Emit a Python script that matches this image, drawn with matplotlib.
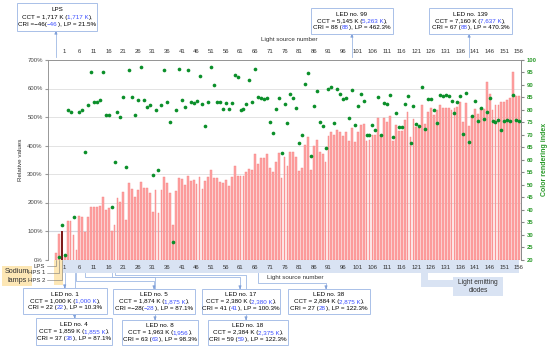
import matplotlib.pyplot as plt
from matplotlib.patches import Rectangle, FancyArrowPatch
from matplotlib.lines import Line2D

plt.rcParams['font.family'] = ['Liberation Sans', 'DejaVu Sans']

# sodium lamps (placed before LED no. 1)
sodium_names = ['LPS', 'HPS 1', 'HPS 2']
sodium_pos = [-2, -1, 0]
sodium_lp = [21.5, 89, 100]
sodium_cri = [-46, 21, 34]

# LEDs no. 1..156 : relative values (LP, %) and colour rendering index
led_lp = [10, 135, 135, 87, 35, 152, 150, 98, 148, 185,
          183, 183, 189, 218, 174, 180, 100, 122, 217, 203,
          238, 139, 267, 246, 221, 244, 271, 252, 250, 235,
          168, 244, 164, 244, 288, 267, 232, 122, 240, 285,
          283, 263, 294, 275, 279, 265, 288, 246, 275, 291,
          314, 285, 286, 273, 270, 279, 258, 288, 329, 293,
          293, 293, 306, 318, 314, 370, 335, 355, 356, 369,
          320, 306, 341, 374, 287, 358, 329, 376, 376, 360,
          310, 322, 401, 431, 315, 399, 418, 378, 371, 341,
          434, 446, 437, 453, 446, 433, 448, 416, 462, 411,
          446, 472, 474, 416, 419, 437, 437, 497, 437, 497,
          481, 505, 416, 472, 451, 451, 489, 519, 431, 493,
          466, 460, 542, 477, 519, 533, 507, 525, 542, 530,
          533, 530, 525, 530, 536, 554, 484, 550, 470, 502,
          527, 512, 530, 528, 624, 580, 523, 542, 542, 551,
          554, 558, 568, 659, 575, 573]
led_cri = [22, 80, 79, 37, -28, 79, 80, 63, 82, 95,
           83, 83, 84, 95, 78, 78, 41, 59, 79, 77,
           85, 57, 96, 85, 78, 84, 97, 84, 81, 82,
           54, 80, 56, 82, 96, 83, 75, 27, 80, 96.5,
           84, 81, 96, 83, 82.6, 83.4, 93.4, 82.5, 73.4, 83.3,
           97.3, 90, 83, 83.3, 80.4, 82.6, 80.2, 82.6, 94, 93,
           79.8, 80.5, 82.4, 92, 83, 96.4, 85.3, 84.9, 84.4, 84.6,
           75, 70.6, 80.2, 84.8, 62.8, 82.2, 74.8, 86.4, 84.6, 80.9,
           66.9, 69.9, 90.4, 94.8, 61.6, 81.6, 87.7, 75.3, 73.4, 64.7,
           88.4, 89, 74.6, 88.5, 86.3, 84.4, 84.8, 76.6, 88, 73.8,
           81.6, 86.3, 83.7, 69.9, 69.9, 73.8, 72, 85.2, 69.9, 82.6,
           82.3, 86, 69, 78.9, 73, 73, 82.2, 85.7, 66.6, 81.7,
           74.3, 73.5, 89.3, 72.3, 84.4, 84.5, 80.1, 74.9, 85.8, 85.4,
           85.8, 85.6, 83.5, 78.6, 83, 85.4, 70.5, 86.6, 67, 77.7,
           83.7, 75.5, 80.9, 76.3, 79.3, 84.8, 75.4, 75, 75.8, 72.1,
           75.4, 76.1, 75.6, 86, 76.1, 75.7]
led_pos = list(range(1, len(led_lp) + 1))
tick_pos = list(range(1, 157, 5))

# callouts: title, CCT, CCT (calc), CRI, CRI (calc), LP
notes = {
    'LPS': ('LPS', '1,717 K', '1,717 K', '\u221246', '\u221246', '21.5%'),
    1: ('LED no. 1', '1,000 K', '1,000 K', '22', '22', '10.3%'),
    4: ('LED no. 4', '1,859 K', '1,855 K', '37', '38', '87.1%'),
    5: ('LED no. 5', '1,874 K', '1,875 K', '\u221228', '\u221228', '87.1%'),
    8: ('LED no. 8', '1,963 K', '1,956', '63', '63', '98.3%'),
    17: ('LED no. 17', '2,380 K', '2,380 K', '41', '41', '100.3%'),
    18: ('LED no. 18', '2,384 K', '2,375 K', '59', '59', '122.3%'),
    38: ('LED no. 38', '2,884 K', '2,875 K', '27', '28', '122.3%'),
    99: ('LED no. 99', '5,145 K', '5,263 K', '88', '88', '462.3%'),
    139: ('LED no. 139', '7,160 K', '7,637 K', '67', '88', '470.3%'),
}

W, H = 550, 348
fig = plt.figure(figsize=(W / 100, H / 100), dpi=100)
ax = fig.add_axes([48.3 / W, 1 - 259.5 / H, (520.7 - 48.3) / W, (259.5 - 60) / H])

ax.bar(led_pos, led_lp, width=0.62, color='#ffa3a3', edgecolor='#f47f7f', lw=0.3, zorder=2)
ax.bar(sodium_pos[:2], sodium_lp[:2], width=0.62, color='#ffa3a3', edgecolor='#f47f7f', lw=0.3, zorder=2)
ax.bar(sodium_pos[2:], sodium_lp[2:], width=0.62, color='#7d1c1c', zorder=2)
ax.set_xlim(-4.6, 156.6)
ax.set_ylim(0, 700)
ax.set_yticks(range(0, 701, 100))
ax.set_yticklabels([f'{v}%' for v in range(0, 701, 100)])
ax.grid(axis='y', color='#dedede', lw=0.6, zorder=0)
ax.plot([-4.6, 38.5], [100, 100], color='#9fb9e4', lw=0.8, zorder=1)
ax.set_xticks(tick_pos)
ax.tick_params(axis='x', length=0, labelsize=4.3, labelcolor='#333333', pad=4,
               top=True, labeltop=True)
ax.tick_params(axis='y', length=2, labelsize=4.3, labelcolor='#444444', color='#999999', pad=2)
for s in ['top', 'left']:
    ax.spines[s].set_linestyle((0, (1, 1)))
    ax.spines[s].set_color('#888888')
    ax.spines[s].set_linewidth(0.6)
ax.spines['bottom'].set_visible(False)
ax.spines['right'].set_color('#888888')
ax.spines['right'].set_linewidth(0.6)
ax.set_ylabel('Relative values', fontsize=4.5, color='#333333', labelpad=3)

ax2 = ax.twinx()
ax2.scatter(led_pos, led_cri, s=7, color='#0b8f2a', lw=0, zorder=3)
ax2.scatter(sodium_pos, sodium_cri, s=7, color='#0b8f2a', lw=0, zorder=3)
ax2.set_ylim(20, 100)
ax2.set_yticks(range(20, 101, 5))
ax2.tick_params(axis='y', length=2.5, labelsize=4.2, labelcolor='#2a9a2a', color='#888888', pad=2)
for t in ax2.get_yticklabels():
    t.set_fontweight('bold')
for s in ['top', 'left', 'bottom']:
    ax2.spines[s].set_visible(False)
ax2.spines['right'].set_color('#888888')
ax2.spines['right'].set_linewidth(0.6)
ax2.set_ylabel('Color rendering index', fontsize=5, color='#2a9a2a', fontweight='bold', labelpad=3)

fig.text(289 / W, 1 - 40 / H, 'Light source number', fontsize=4.5, color='#333333', ha='center', va='center')

renderer = fig.canvas.get_renderer()
line_c = '#9fb9e4'
blue = '#3a4dff'


def fp(x, y):
    return (x / W, 1 - y / H)


def rect(x0, y0, x1, y1, fc, ec='none', lw=0.7, z=3):
    fig.add_artist(Rectangle(fp(x0, y1), (x1 - x0) / W, (y1 - y0) / H, transform=fig.transFigure,
                             fc=fc, ec=ec, lw=lw, zorder=z))


def connector(points, z=2):
    xs = [fp(*p)[0] for p in points]
    ys = [fp(*p)[1] for p in points]
    fig.add_artist(Line2D(xs, ys, transform=fig.transFigure, color=line_c, lw=0.6, zorder=z))
    (xa, ya), (xb, yb) = points[-2], points[-1]
    d = 4.0
    if xa == xb:
        start = (xb, yb - d if yb > ya else yb + d)
    else:
        start = (xb - d if xb > xa else xb + d, yb)
    fig.add_artist(FancyArrowPatch(fp(*start), fp(xb, yb), transform=fig.transFigure, arrowstyle='-|>',
                                   mutation_scale=4, color='#7f9fd8', lw=0.6, zorder=z))


def rich(xc, y, parts, size=4.5):
    texts, widths = [], []
    for s, c in parts:
        t = fig.text(0, 0, s, color=c, fontsize=size, ha='left', va='center', zorder=6)
        texts.append(t)
        widths.append(t.get_window_extent(renderer).width)
    x = xc - sum(widths) / 2
    for t, w in zip(texts, widths):
        t.set_position(fp(x, y))
        x += w


def note(key, x0, y0, x1, y1):
    title, cct, cct2, cri, cri2, lp = notes[key]
    rect(x0, y0, x1, y1, 'white', '#a9c0e8', 0.7, z=4)
    xc = (x0 + x1) / 2
    step = (y1 - y0) / 3.6
    fig.text(*fp(xc, y0 + step * 0.85), title, fontsize=4.5, ha='center', va='center', zorder=6)
    rich(xc, y0 + step * 1.8, [(f'CCT = {cct} (', 'black'), (cct2, blue), ('),', 'black')])
    sep = '(' if cri.startswith('\u2212') else ' ('
    eq = 'CRI =' if cri.startswith('\u2212') else 'CRI = '
    rich(xc, y0 + step * 2.75, [(f'{eq}{cri}{sep}', 'black'), (cri2, blue), (f'), LP = {lp}', 'black')])


def xpix(p):
    return ax.transData.transform((p, 0))[0]


# band under the x axis, sodium lamps and LED group (behind the axes' tick labels)
rect(63, 259.5, 519, 273, '#d9e3f3', z=-1)
rect(421, 273, 428, 287, '#d9e3f3', z=-1)
rect(421, 280, 453, 287, '#d9e3f3', z=-1)
rect(453, 277, 503, 296, '#d9e3f3', z=-1)
fig.text(*fp(478, 282), 'Light emitting', fontsize=4.8, ha='center', va='center', color='#333333')
fig.text(*fp(478, 290), 'diodes', fontsize=4.8, ha='center', va='center', color='#333333')
rect(54, 259.5, 63, 285, '#fde7b5', z=-1)
rect(2, 266, 32, 286, '#fde7b5', z=-1)
fig.text(*fp(17, 271.5), 'Sodium', fontsize=5.2, ha='center', va='center', color='#333333')
fig.text(*fp(17, 280), 'lamps', fontsize=5.2, ha='center', va='center', color='#333333')
for name, p, yy in zip(sodium_names, sodium_pos, [266, 273, 280]):
    xp = xpix(p)
    fig.text(*fp(45, yy), name, fontsize=4.3, ha='right', va='center', color='#333333', zorder=6)
    fig.add_artist(Line2D([fp(46.5, yy)[0], fp(xp, yy)[0], fp(xp, 259.5)[0]],
                          [fp(46.5, yy)[1], fp(xp, yy)[1], fp(xp, 259.5)[1]],
                          transform=fig.transFigure, color='#777777', lw=0.4, zorder=5))
fig.text(*fp(295, 277), 'Light source number', fontsize=4.5, ha='center', va='center', color='#333333')

# connectors
connector([(xpix(-2), 57), (xpix(-2), 31)])
connector([(xpix(99), 57), (xpix(99), 34)])
connector([(xpix(139), 57), (xpix(139), 34)])
connector([(xpix(1), 273), (xpix(1), 288)])
connector([(xpix(4) + 1, 273), (xpix(4) + 1, 318)])
connector([(xpix(5), 273), (xpix(5), 281), (154, 281), (154, 289)])
connector([(xpix(8), 273), (xpix(8), 277), (155, 277), (155, 320)])
connector([(xpix(17), 273), (xpix(17), 277), (240, 277), (240, 289)])
connector([(xpix(18), 273), (xpix(18), 274.5), (246, 274.5), (246, 320)])
connector([(258, 273), (258, 283), (326, 283), (326, 289)])

note('LPS', 17, 3, 97, 31)
note(99, 311, 8, 393, 34)
note(139, 429, 8, 512, 34)
note(1, 23, 288, 107, 314)
note(4, 36, 318, 112, 345)
note(5, 113, 289, 195, 314)
note(8, 122, 320, 198, 345)
note(17, 202, 289, 280, 314)
note(18, 208, 320, 288, 345)
note(38, 288, 289, 370, 314)

fig.savefig('out.png', dpi=100)
